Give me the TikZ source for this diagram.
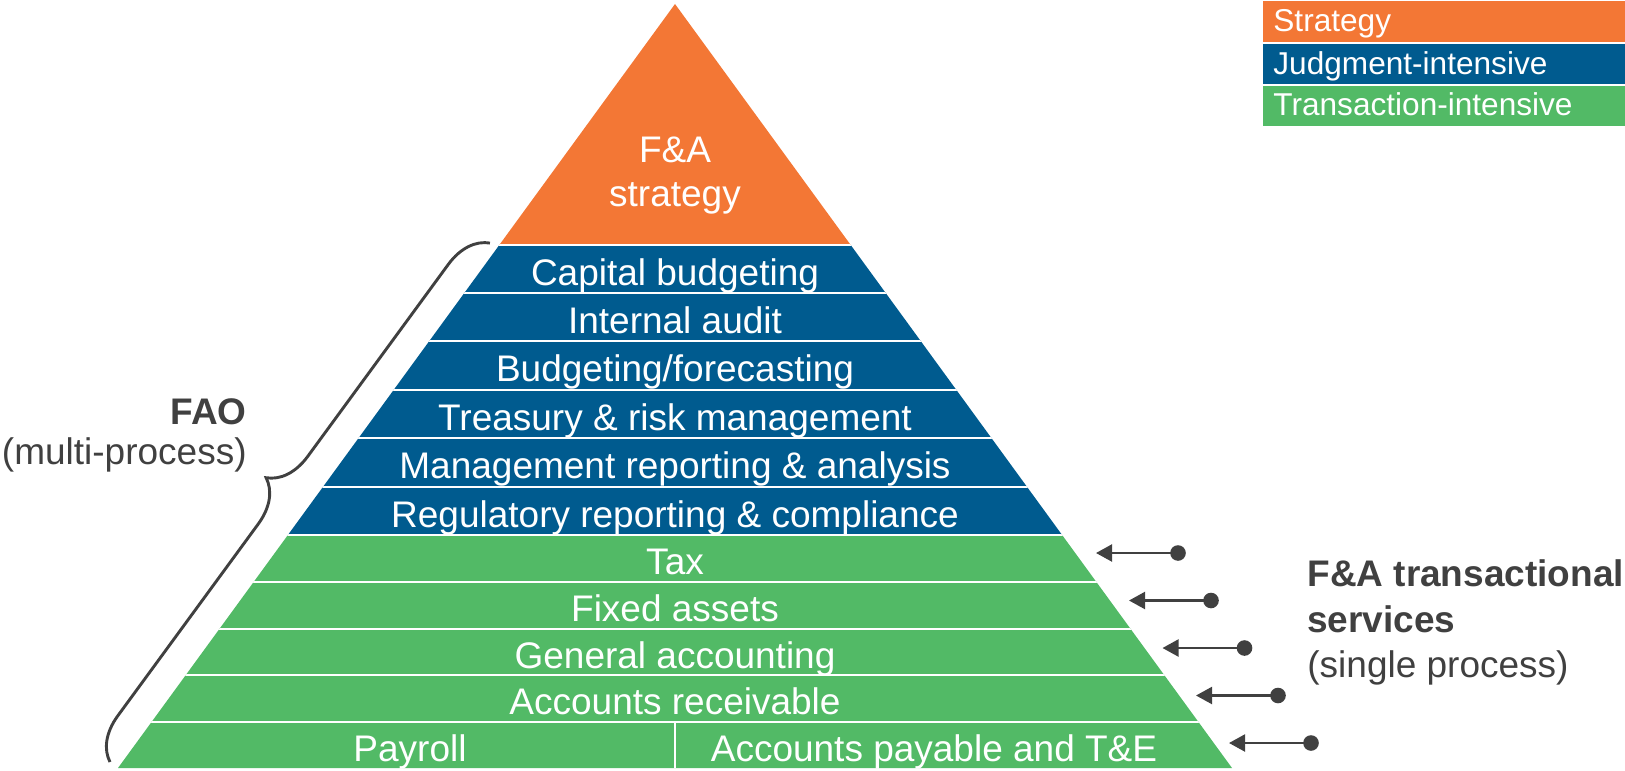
\documentclass[tikz,border=0pt]{standalone}
\usepackage{fontspec}
\setmainfont{Liberation Sans}
\usetikzlibrary{arrows.meta,decorations.pathreplacing}
\definecolor{fastrat}{HTML}{F37735}
\definecolor{fajudg}{HTML}{005B8F}
\definecolor{fatrans}{HTML}{52BA66}
\definecolor{fadark}{HTML}{404040}
\begin{document}
\begin{tikzpicture}[x=0.5pt,y=-0.5pt,
  bandtext/.style={text=white, font=\fontsize{18.5}{22}\selectfont, anchor=base, inner sep=0pt},
  legtext/.style={text=white, font=\fontsize{15.8}{19}\selectfont, anchor=base west, inner sep=0pt},
  darktext/.style={text=fadark, font=\fontsize{18.5}{22}\selectfont, inner sep=0pt},
  darkbold/.style={text=fadark, font=\fontsize{18.5}{22}\selectfont\bfseries, inner sep=0pt},
  dotnode/.style={circle, fill=fadark, minimum size=7.8pt, inner sep=0pt},
  conn/.style={draw=fadark, line width=1.1pt, -{Triangle[length=8pt,width=8.5pt]}},
  bracestyle/.style={draw=fadark, line width=1.45pt, decorate, decoration={brace, amplitude=21pt}}]
\useasboundingbox (0,0) rectangle (1625,770);
% pyramid
\fill[fastrat] (675,4) -- (850.7,245) -- (499.3,245) -- cycle;
\fill[fajudg] (499.3,245) -- (850.7,245) -- (1062.1,535) -- (287.9,535) -- cycle;
\fill[fatrans] (287.9,535) -- (1062.1,535) -- (1232,768) -- (118,768) -- cycle;
\begin{scope}
\clip (675,4) -- (1232,768) -- (118,768) -- cycle;
\foreach \yy in {245,293,341,390,438,487,535,582,629,675,722}
  \draw[white, line width=1.1pt] (0,\yy) -- (1625,\yy);
\draw[white, line width=1pt] (675,722) -- (675,770);
\end{scope}
% labels
\node[bandtext] (s1) at (675,163) {F\&A};
\node[bandtext] (s2) at (675,206) {strategy};
\node[bandtext] (j1) at (675,285) {Capital budgeting};
\node[bandtext] (j2) at (675,333) {Internal audit};
\node[bandtext] (j3) at (675,381.5) {Budgeting/forecasting};
\node[bandtext] (j4) at (675,430) {Treasury \& risk management};
\node[bandtext] (j5) at (675,478.5) {Management reporting \& analysis};
\node[bandtext] (j6) at (675,527) {Regulatory reporting \& compliance};
\node[bandtext] (t1x) at (675,574.5) {Tax};
\node[bandtext] (t2x) at (675,621.5) {Fixed assets};
\node[bandtext] (t3x) at (675,668) {General accounting};
\node[bandtext] (t4x) at (675,714.5) {Accounts receivable};
\node[bandtext] (t5a) at (410,761) {Payroll};
\node[bandtext] (t5b) at (934,761) {Accounts payable and T\&E};
% legend
\fill[fastrat] (1263,1) rectangle (1625,42);
\fill[fajudg] (1263,44) rectangle (1625,84);
\fill[fatrans] (1263,86) rectangle (1625,126);
\node[legtext] (lgs) at (1273,32) {Strategy};
\node[legtext] (lgj) at (1273,75) {Judgment-intensive};
\node[legtext] (lgt) at (1273,116) {Transaction-intensive};
% FAO
\node[darkbold, anchor=base east] (fao) at (247,424) {FAO};
\node[darktext, anchor=base east] (faosub) at (247,464) {(multi-process)};
\coordinate (brb) at (110,762);
\coordinate (brt) at (490,243);
\draw[bracestyle] (brb) -- (brt);
% transactional services
\node[darkbold, anchor=base west] (fat1) at (1307,586) {F\&A transactional};
\node[darkbold, anchor=base west] (fat2) at (1307,632) {services};
\node[darktext, anchor=base west] (fat3) at (1307,677) {(single process)};
\foreach \i/\tx/\ty in {1/1096/553, 2/1129/600.5, 3/1162.5/648, 4/1196/695.5, 5/1229/743} {
  \coordinate (a\i) at (\tx,\ty);
  \node[dotnode] (d\i) at (\tx+82,\ty) {};
  \draw[conn] (d\i.center) -- (a\i);
}
\end{tikzpicture}
\end{document}
